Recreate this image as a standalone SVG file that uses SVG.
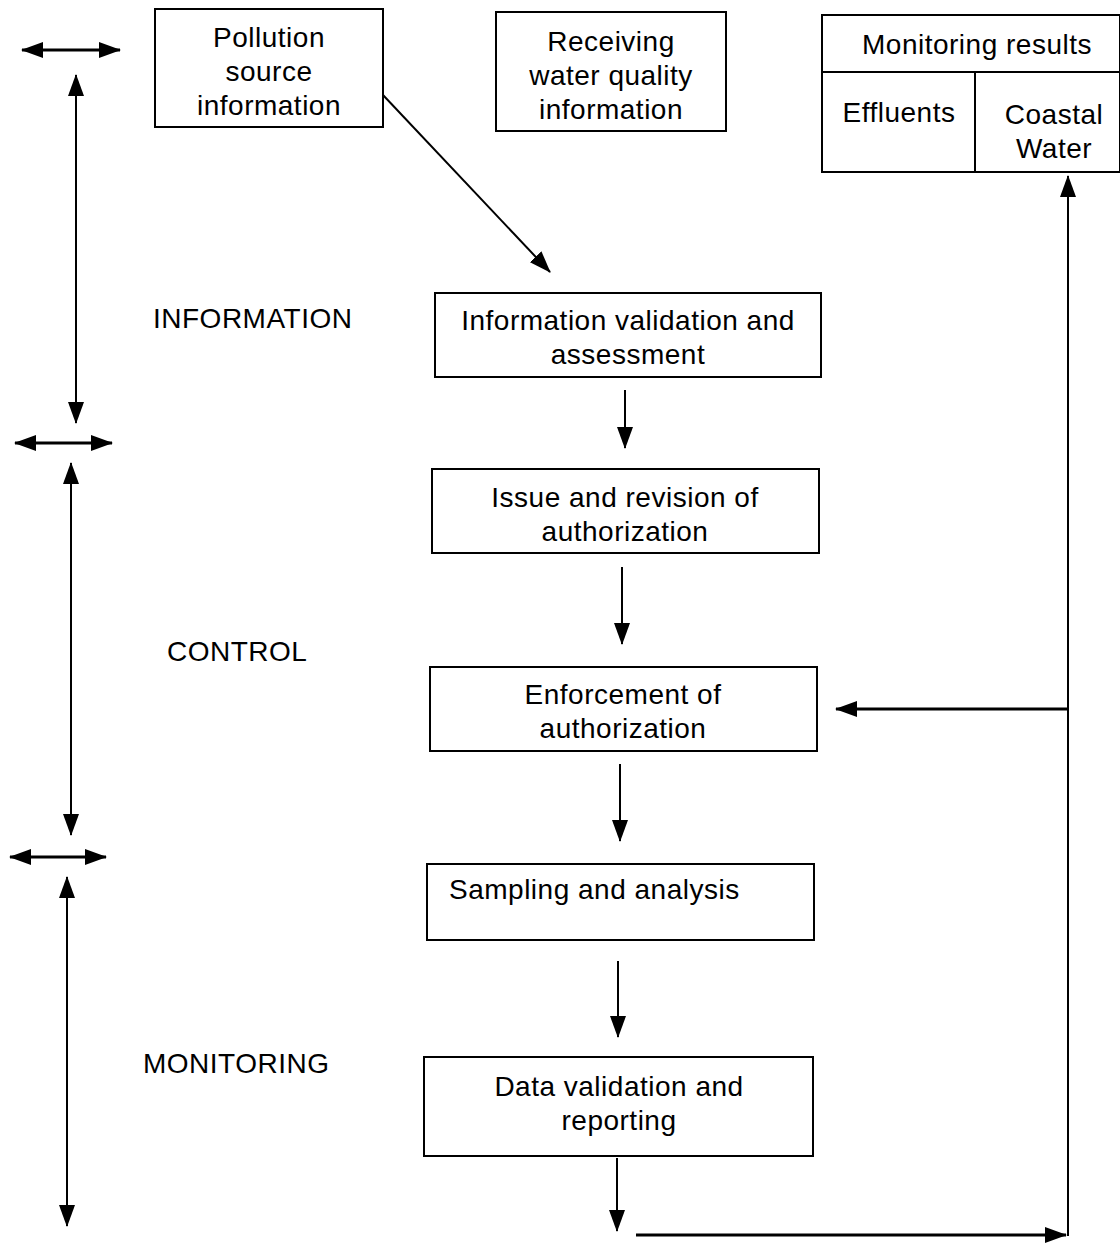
<svg xmlns="http://www.w3.org/2000/svg" width="1120" height="1244" viewBox="0 0 1120 1244">
<style>
.box{fill:#fff;stroke:#000;stroke-width:2}
.t{font-family:"Liberation Sans",Arial,sans-serif;font-size:28px;letter-spacing:0.5px;fill:#000;text-anchor:middle}
.lbl{font-family:"Liberation Sans",Arial,sans-serif;font-size:28px;letter-spacing:0.5px;fill:#000}
.c{fill:none;stroke:#000;stroke-width:2}
.ct{fill:none;stroke:#000;stroke-width:3}
</style>
<defs>
<marker id="ah" viewBox="0 0 22 16" refX="21" refY="8" markerWidth="22" markerHeight="16" markerUnits="userSpaceOnUse" orient="auto-start-reverse">
<path d="M0,0 L22,8 L0,16 Z" fill="#000"/>
</marker>
</defs>
<rect width="1120" height="1244" fill="#fff"/>
<g id="pollution-source">
<rect class="box" x="155" y="9" width="228" height="118"/>
<text class="t" x="269" y="47">Pollution</text>
<text class="t" x="269" y="81">source</text>
<text class="t" x="269" y="115">information</text>
</g>
<g id="receiving-water">
<rect class="box" x="496" y="12" width="230" height="119"/>
<text class="t" x="611" y="51">Receiving</text>
<text class="t" x="611" y="85">water quality</text>
<text class="t" x="611" y="119">information</text>
</g>
<g id="monitoring-results">
<rect class="box" x="822" y="15" width="298" height="157"/>
<line class="c" x1="822" y1="72" x2="1120" y2="72"/>
<line class="c" x1="975" y1="72" x2="975" y2="172"/>
<text class="t" x="977" y="54">Monitoring results</text>
<text class="t" x="899" y="122">Effluents</text>
<text class="t" x="1054" y="124">Coastal</text>
<text class="t" x="1054" y="158">Water</text>
</g>
<g id="info-validation">
<rect class="box" x="435" y="293" width="386" height="84"/>
<text class="t" x="628" y="330">Information validation and</text>
<text class="t" x="628" y="364">assessment</text>
</g>
<g id="issue-revision">
<rect class="box" x="432" y="469" width="387" height="84"/>
<text class="t" x="625" y="507">Issue and revision of</text>
<text class="t" x="625" y="541">authorization</text>
</g>
<g id="enforcement">
<rect class="box" x="430" y="667" width="387" height="84"/>
<text class="t" x="623" y="704">Enforcement of</text>
<text class="t" x="623" y="738">authorization</text>
</g>
<g id="sampling">
<rect class="box" x="427" y="864" width="387" height="76"/>
<text class="lbl" x="449" y="899">Sampling and analysis</text>
</g>
<g id="data-validation">
<rect class="box" x="424" y="1057" width="389" height="99"/>
<text class="t" x="619" y="1096">Data validation and</text>
<text class="t" x="619" y="1130">reporting</text>
</g>
<g id="label-information"><text class="lbl" x="153" y="328">INFORMATION</text></g>
<g id="label-control"><text class="lbl" x="167" y="661">CONTROL</text></g>
<g id="label-monitoring"><text class="lbl" x="143" y="1073">MONITORING</text></g>
<g id="connectors">
<line class="c" x1="383" y1="95" x2="550" y2="272" marker-end="url(#ah)"/>
<line class="c" x1="625" y1="390" x2="625" y2="448" marker-end="url(#ah)"/>
<line class="c" x1="622" y1="567" x2="622" y2="644" marker-end="url(#ah)"/>
<line class="c" x1="620" y1="764" x2="620" y2="841" marker-end="url(#ah)"/>
<line class="c" x1="618" y1="961" x2="618" y2="1037" marker-end="url(#ah)"/>
<line class="c" x1="617" y1="1158" x2="617" y2="1231" marker-end="url(#ah)"/>
<line class="ct" x1="636" y1="1235" x2="1066" y2="1235" marker-end="url(#ah)"/>
<line class="c" x1="1068" y1="1236" x2="1068" y2="176" marker-end="url(#ah)"/>
<line class="ct" x1="1068" y1="709" x2="836" y2="709" marker-end="url(#ah)"/>
<line class="ct" x1="22" y1="50" x2="120" y2="50" marker-start="url(#ah)" marker-end="url(#ah)"/>
<line class="c" x1="76" y1="75" x2="76" y2="423" marker-start="url(#ah)" marker-end="url(#ah)"/>
<line class="ct" x1="15" y1="443" x2="112" y2="443" marker-start="url(#ah)" marker-end="url(#ah)"/>
<line class="c" x1="71" y1="463" x2="71" y2="835" marker-start="url(#ah)" marker-end="url(#ah)"/>
<line class="ct" x1="10" y1="857" x2="106" y2="857" marker-start="url(#ah)" marker-end="url(#ah)"/>
<line class="c" x1="67" y1="877" x2="67" y2="1226" marker-start="url(#ah)" marker-end="url(#ah)"/>
</g>
</svg>
